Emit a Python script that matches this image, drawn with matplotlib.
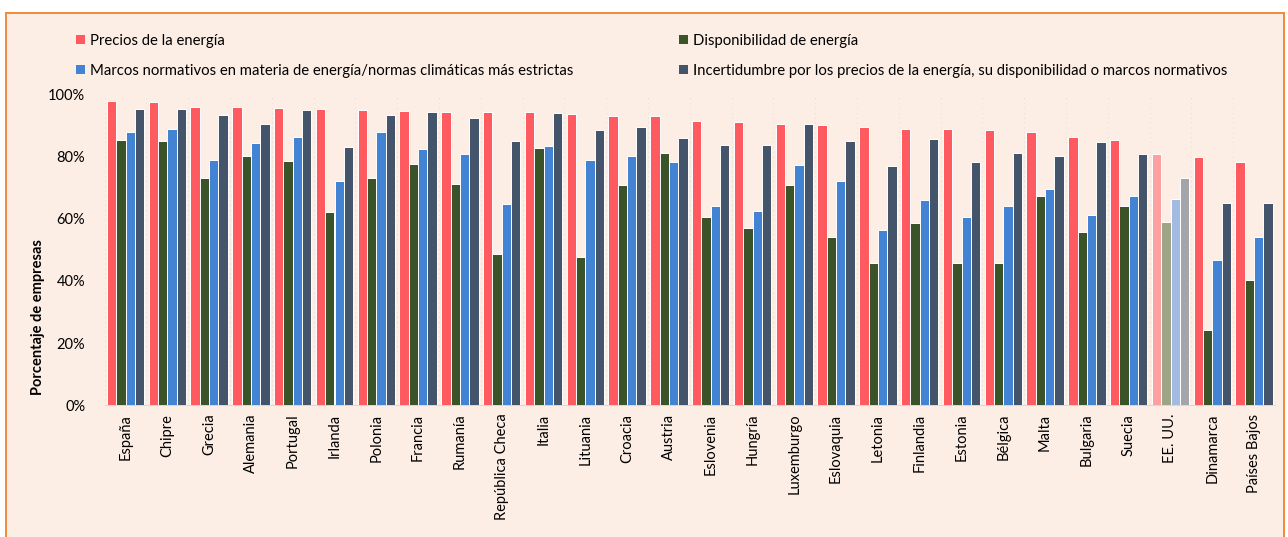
import matplotlib
matplotlib.use("Agg")
import matplotlib.pyplot as plt
from matplotlib.patches import Rectangle
from matplotlib.ticker import FixedLocator, PercentFormatter
import numpy as np

paises = ["España", "Chipre", "Grecia", "Alemania", "Portugal", "Irlanda", "Polonia",
          "Francia", "Rumanía", "República Checa", "Italia", "Lituania", "Croacia",
          "Austria", "Eslovenia", "Hungría", "Luxemburgo", "Eslovaquia", "Letonia",
          "Finlandia", "Estonia", "Bélgica", "Malta", "Bulgaria", "Suecia", "EE. UU.",
          "Dinamarca", "Países Bajos"]

precios = [97.8, 97.5, 95.9, 95.9, 95.6, 95.4, 95.0, 94.6, 94.4, 94.3, 94.3, 93.7, 93.1,
           92.9, 91.4, 91.1, 90.6, 90.0, 89.4, 88.9, 88.9, 88.6, 88.0, 86.3, 85.3, 80.7,
           79.9, 78.3]
disponibilidad = [85.3, 85.1, 73.0, 80.2, 78.6, 62.1, 73.2, 77.5, 71.1, 48.6, 82.8, 47.7,
                  70.8, 81.2, 60.4, 57.0, 70.8, 54.0, 45.9, 58.5, 45.7, 45.7, 67.4, 55.6,
                  64.0, 59.0, 24.1, 40.2]
marcos = [88.0, 88.7, 78.8, 84.2, 86.3, 72.1, 88.0, 82.5, 80.9, 64.6, 83.4, 79.0, 80.2,
          78.3, 64.2, 62.4, 77.3, 72.1, 56.4, 65.9, 60.4, 64.0, 69.6, 61.1, 67.4, 66.3,
          46.6, 54.0]
incertidumbre = [95.2, 95.3, 93.5, 90.6, 95.0, 82.9, 93.2, 94.3, 92.4, 85.0, 94.1, 88.5,
                 89.4, 86.0, 83.8, 83.6, 90.4, 84.9, 76.8, 85.6, 78.1, 81.2, 80.2, 84.6,
                 80.9, 73.1, 64.9, 64.9]

series_labels = ["Precios de la energía",
                 "Disponibilidad de energía",
                 "Marcos normativos en materia de energía/normas climáticas más estrictas",
                 "Incertidumbre por los precios de la energía, su disponibilidad o marcos normativos"]
colores = ["#FF5A5F", "#3B5328", "#4383D3", "#44546A"]
colores_claros = ["#FFA0A0", "#9EA587", "#A3BBE0", "#A3A5AB"]
destacado = "EE. UU."

plt.rcParams['font.family'] = ['Lato', 'DejaVu Sans']

W, H = 1288, 537
fig = plt.figure(figsize=(W / 100, H / 100), dpi=100, facecolor="white")

# outer frame (drawn below everything)
frame = Rectangle((6 / W, -0.05), (1284 - 6) / W, 1.05 - 12.5 / H,
                  transform=fig.transFigure, facecolor="#FDEEE5",
                  edgecolor="#F08A3A", linewidth=1.4, zorder=-10)
fig.add_artist(frame)

left, right = 104.6, 1275.0
bottom, top = 405.3, 94.3
ax = fig.add_axes([left / W, 1 - bottom / H, (right - left) / W, (bottom - top) / H])
ax.set_facecolor("none")
ax.set_zorder(2)

x = np.arange(len(paises))
bw = 0.223
offsets = [-1.5, -0.5, 0.5, 1.5]
handles = []
for k, (vals, lab) in enumerate(zip([precios, disponibilidad, marcos, incertidumbre],
                                    series_labels)):
    cols = [colores_claros[k] if p == destacado else colores[k] for p in paises]
    bars = ax.bar(x + offsets[k] * bw, vals, width=bw, color=cols, edgecolor="white",
                  linewidth=0.7, label=lab, zorder=3)
    handles.append(bars)

ax.set_xlim(-0.5, len(paises) - 0.5)
ax.set_ylim(0, 100)
ax.yaxis.set_major_locator(FixedLocator([0, 20, 40, 60, 80, 100]))
ax.yaxis.set_major_formatter(PercentFormatter(decimals=0))
ax.set_xticks(x)
ax.set_xticklabels(paises, rotation=90, fontsize=10.5, va="top", ha="center")
ax.tick_params(axis="both", which="both", length=0, labelsize=10.5, colors="black")
ax.tick_params(axis="x", pad=6)
ax.tick_params(axis="y", pad=14)
ax.xaxis.set_minor_locator(FixedLocator(np.arange(len(paises) + 1) - 0.5))
ax.grid(which="minor", axis="x", color="#E6DCD6", linestyle=(0, (1, 4)), linewidth=0.7,
        zorder=0)
for s in ["top", "right", "left"]:
    ax.spines[s].set_visible(False)
ax.spines["bottom"].set_color("#D9D9D9")
ax.spines["bottom"].set_linewidth(0.8)

fig.text(38 / W, 1 - 317 / H, "Porcentaje de empresas", rotation=90, fontsize=10.5,
         fontweight="bold", ha="center", va="center")

common = dict(frameon=False, fontsize=10.7, handlelength=0.6, handleheight=0.6,
              handletextpad=0.35, labelspacing=1.05, borderaxespad=0, borderpad=0)
leg1 = fig.legend([handles[0], handles[2]], [series_labels[0], series_labels[2]],
                  loc="upper left", bbox_to_anchor=(76 / W, 1 - 34 / H), **common)
leg2 = fig.legend([handles[1], handles[3]], [series_labels[1], series_labels[3]],
                  loc="upper left", bbox_to_anchor=(679 / W, 1 - 34 / H), **common)
for leg in (leg1, leg2):
    for h in leg.legend_handles:
        h.set_edgecolor("none")

fig.savefig("out.png", dpi=100, facecolor="white")
